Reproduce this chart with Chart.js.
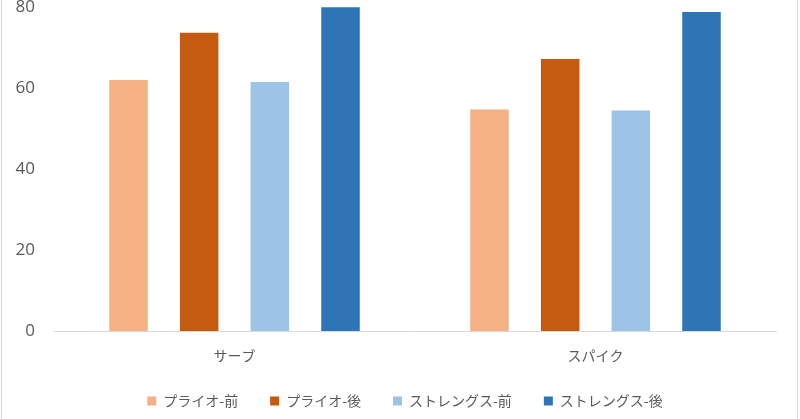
<!DOCTYPE html>
<html>
<head>
<meta charset="utf-8">
<script src="https://cdn.jsdelivr.net/npm/chart.js@4/dist/chart.umd.min.js"></script>
<style>
  html, body { margin: 0; padding: 0; background: #fff; }
  #wrap { position: relative; width: 800px; height: 419px; overflow: hidden; background: #fff; }
  #frame { position: absolute; left: 1px; top: 0; width: 797px; height: 419px; border-left: 1px solid #d9d9d9; border-right: 1px solid #d9d9d9; box-sizing: border-box; pointer-events: none; z-index: 2; }
  #box { position: absolute; left: 0; top: -22px; width: 810px; height: 440px; }
</style>
</head>
<body>
<div id="wrap">
  <div id="box"><canvas id="c"></canvas></div>
  <div id="frame"></div>
</div>
<script>
const categories = ['サーブ', 'スパイク'];
const seriesNames = ['プライオ-前', 'プライオ-後', 'ストレングス-前', 'ストレングス-後'];
const priorBefore = [62.0, 54.7];
const priorAfter = [73.7, 67.2];
const strengthBefore = [61.5, 54.5];
const strengthAfter = [80.3, 78.8];
const yTicks = [0, 20, 40, 60, 80];

const colors = ['#F4B183', '#C55A11', '#9DC3E6', '#2E75B6'];
const seriesValues = [priorBefore, priorAfter, strengthBefore, strengthAfter];

const font = "'Noto Sans CJK JP', 'Noto Sans', sans-serif";

new Chart(document.getElementById('c'), {
  type: 'bar',
  data: {
    labels: categories,
    datasets: seriesNames.map((n, i) => ({
      label: n,
      data: seriesValues[i],
      backgroundColor: colors[i],
      borderWidth: 0,
      categoryPercentage: 0.783,
      barPercentage: 0.545
    }))
  },
  options: {
    responsive: true,
    maintainAspectRatio: false,
    animation: false,
    devicePixelRatio: 1,
    layout: { padding: { top: 0, right: 0, left: 0, bottom: 0 } },
    plugins: {
      tooltip: { enabled: false },
      legend: {
        position: 'bottom',
        labels: {
          boxWidth: 9,
          boxHeight: 9,
          padding: 32,
          color: '#595959',
          font: { family: font, size: 14 }
        }
      }
    },
    scales: {
      x: {
        grid: { display: false, drawTicks: false },
        border: { display: true, color: '#d9d9d9', width: 1 },
        ticks: { color: '#595959', padding: 16, font: { family: font, size: 14 } },
        afterFit: s => { s.height = 31; }
      },
      y: {
        min: 0, max: 80,
        afterBuildTicks: s => { s.ticks = yTicks.map(v => ({ value: v })); },
        grid: { display: false, drawTicks: false },
        border: { display: false },
        ticks: { color: '#595959', padding: 19, font: { family: "'Open Sans', 'Noto Sans', sans-serif", size: 17 } },
        afterFit: s => { s.width = 54; }
      },
      yRight: {
        position: 'right',
        min: 0, max: 80,
        grid: { display: false, drawTicks: false },
        border: { display: false },
        ticks: { display: false },
        afterFit: s => { s.width = 34; }
      }
    }
  }
});
</script>
</body>
</html>
